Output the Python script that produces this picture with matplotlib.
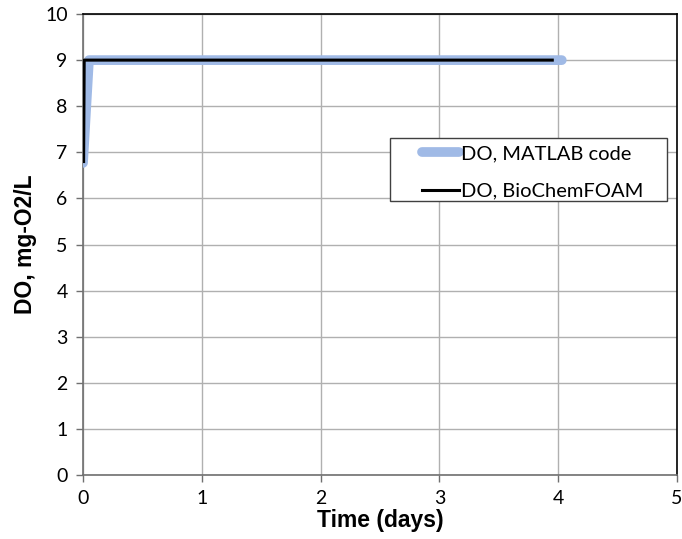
import numpy as np
import matplotlib.pyplot as plt
from matplotlib.patches import Rectangle

# dissolved oxygen, two solvers
t_matlab = [0.0, 0.05, 4.03]
do_matlab = [6.77, 9.0, 9.0]
t_foam = [0.005, 0.01, 3.95]
do_foam = [6.8, 9.0, 9.0]

x_ticks = [0, 1, 2, 3, 4, 5]
y_ticks = [0, 1, 2, 3, 4, 5, 6, 7, 8, 9, 10]

fig = plt.figure(figsize=(6.82, 5.39), dpi=100)
ax = fig.add_axes([0.1217, 0.1187, 0.8710, 0.8553])

ax.plot(t_matlab, do_matlab, color='#a0bae6', lw=7, solid_capstyle='round',
        solid_joinstyle='round', label='DO, MATLAB code', zorder=3)
ax.plot(t_foam, do_foam, color='black', lw=2.2, label='DO, BioChemFOAM', zorder=4)

ax.set_xlim(0, 5)
ax.set_ylim(0, 10)
ax.set_xticks(x_ticks)
ax.set_yticks(y_ticks)
ax.grid(True, color='#b0b0b0', lw=1)
ax.set_axisbelow(True)

for s in ['left', 'bottom']:
    ax.spines[s].set_color('#707070')
    ax.spines[s].set_linewidth(1.2)
for s in ['top', 'right']:
    ax.spines[s].set_color('black')
    ax.spines[s].set_linewidth(1.2)

ax.tick_params(direction='out', length=5, width=1, color='#707070',
               labelsize=14, pad=6)
for lab in ax.get_xticklabels() + ax.get_yticklabels():
    lab.set_family('Lato')

ax.set_xlabel('Time (days)', fontsize=16.5, fontweight='bold',
              family='Liberation Sans', labelpad=1)
ax.set_ylabel('DO, mg-O2/L', fontsize=16.5, fontweight='bold',
              family='Liberation Sans', labelpad=6)

# legend box drawn separately so the padding can be set per side
ax.add_patch(Rectangle((0.517, 0.594), 0.466, 0.137, transform=ax.transAxes,
                       facecolor='white', edgecolor='#404040', lw=1, zorder=5))
leg = ax.legend(loc='center left', bbox_to_anchor=(0.553, 0.656),
                prop={'family': 'Lato', 'size': 14.5},
                frameon=False, handlelength=1.85,
                handletextpad=0.1, borderpad=0, labelspacing=1.0)
leg.set_zorder(6)
leg.get_lines()[0].set_linewidth(7)

fig.savefig('out.png', dpi=100)
